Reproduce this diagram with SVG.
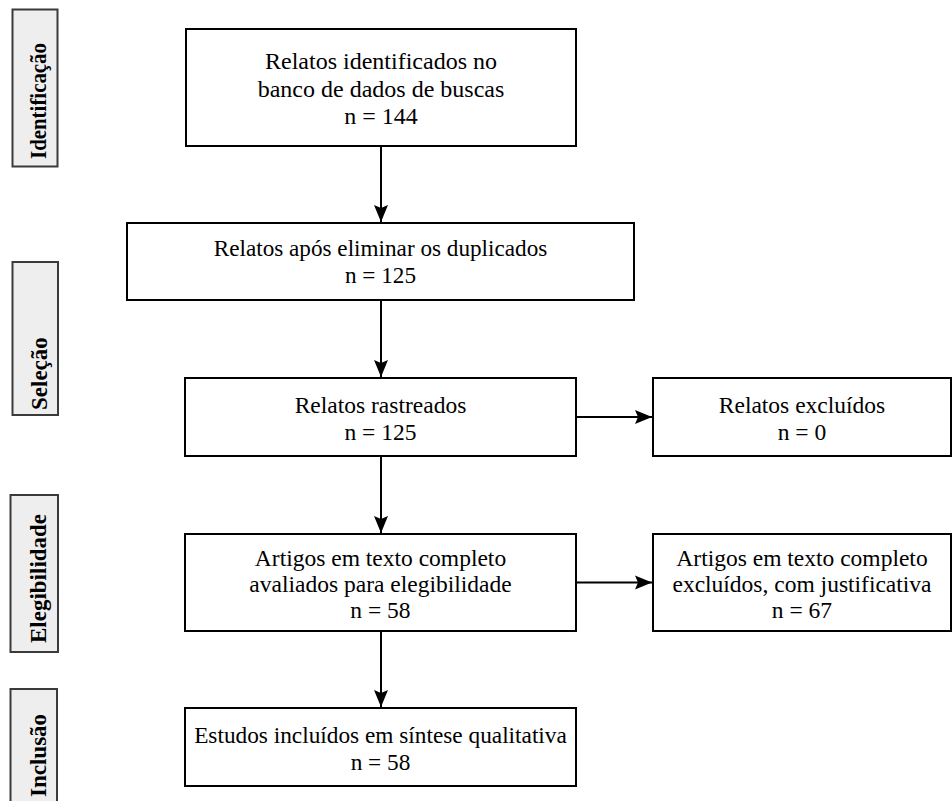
<svg xmlns="http://www.w3.org/2000/svg" width="952" height="801" viewBox="0 0 952 801">
  <style>
    .box { fill: #ffffff; stroke: #000000; stroke-width: 2; }
    .phase { fill: #eeeeee; stroke: #3a3a3a; stroke-width: 2; }
    .conn { fill: none; stroke: #000000; stroke-width: 2; }
  </style>
  <defs>
    <marker id="arrow" markerUnits="userSpaceOnUse" markerWidth="19" markerHeight="16" refX="17" refY="8" orient="auto">
      <path d="M0,1 L17,8 L0,15 L3,8 Z" fill="#000000"/>
    </marker>
  </defs>
  <rect width="952" height="801" fill="#ffffff"/>

  <!-- Phase labels -->
  <g id="phase-identificacao">
    <rect class="phase" x="12.5" y="9.5" width="45" height="157"/>
    <text font-family="Liberation Serif" font-size="23" font-weight="bold" fill="#000" transform="translate(46,159) rotate(-90)" textLength="116" lengthAdjust="spacingAndGlyphs">Identificação</text>
  </g>
  <g id="phase-selecao">
    <rect class="phase" x="12.5" y="262" width="45.5" height="153"/>
    <text font-family="Liberation Serif" font-size="23" font-weight="bold" fill="#000" transform="translate(46.5,410) rotate(-90)">Seleção</text>
  </g>
  <g id="phase-elegibilidade">
    <rect class="phase" x="10.5" y="495" width="47.5" height="157"/>
    <text font-family="Liberation Serif" font-size="23" font-weight="bold" fill="#000" transform="translate(46,643) rotate(-90)">Elegibilidade</text>
  </g>
  <g id="phase-inclusao">
    <rect class="phase" x="10.5" y="689" width="46.5" height="118"/>
    <text font-family="Liberation Serif" font-size="23" font-weight="bold" fill="#000" transform="translate(45.5,797) rotate(-90)">Inclusão</text>
  </g>

  <!-- Connectors -->
  <g id="connectors">
    <path class="conn" d="M381,146 L381,222" marker-end="url(#arrow)"/>
    <path class="conn" d="M381,300 L381,377" marker-end="url(#arrow)"/>
    <path class="conn" d="M381,456 L381,533" marker-end="url(#arrow)"/>
    <path class="conn" d="M381,631 L381,707" marker-end="url(#arrow)"/>
    <path class="conn" d="M576,417 L652,417" marker-end="url(#arrow)"/>
    <path class="conn" d="M576,582.5 L652,582.5" marker-end="url(#arrow)"/>
  </g>

  <!-- Nodes -->
  <g id="n-identificados" font-family="Liberation Serif" font-size="24" fill="#000" text-anchor="middle">
    <rect class="box" x="186" y="29" width="390" height="117"/>
    <text x="381" y="69">Relatos identificados no</text>
    <text x="381" y="96.5">banco de dados de buscas</text>
    <text x="381" y="123.5">n = 144</text>
  </g>
  <g id="n-duplicados" font-family="Liberation Serif" font-size="23.2" fill="#000" text-anchor="middle">
    <rect class="box" x="127" y="223" width="507" height="77"/>
    <text x="380.5" y="256">Relatos após eliminar os duplicados</text>
    <text x="380.5" y="283">n = 125</text>
  </g>
  <g id="n-rastreados" font-family="Liberation Serif" font-size="23.5" fill="#000" text-anchor="middle">
    <rect class="box" x="185" y="378" width="391" height="78"/>
    <text x="380.5" y="412.5">Relatos rastreados</text>
    <text x="380.5" y="439.5">n = 125</text>
  </g>
  <g id="n-excluidos" font-family="Liberation Serif" font-size="23.5" fill="#000" text-anchor="middle">
    <rect class="box" x="653" y="378" width="298" height="78"/>
    <text x="802" y="412.5">Relatos excluídos</text>
    <text x="802" y="439.5">n = 0</text>
  </g>
  <g id="n-elegibilidade" font-family="Liberation Serif" font-size="23.5" fill="#000" text-anchor="middle">
    <rect class="box" x="185" y="534" width="391" height="97"/>
    <text x="380.5" y="566">Artigos em texto completo</text>
    <text x="380.5" y="592">avaliados para elegibilidade</text>
    <text x="380.5" y="617.5">n = 58</text>
  </g>
  <g id="n-excluidos-justificativa" font-family="Liberation Serif" font-size="23.5" fill="#000" text-anchor="middle">
    <rect class="box" x="653" y="534" width="298" height="97"/>
    <text x="802" y="566">Artigos em texto completo</text>
    <text x="802" y="592">excluídos, com justificativa</text>
    <text x="802" y="617.5">n = 67</text>
  </g>
  <g id="n-incluidos" font-family="Liberation Serif" font-size="23.3" fill="#000" text-anchor="middle">
    <rect class="box" x="185" y="708" width="391" height="78"/>
    <text x="380.5" y="743">Estudos incluídos em síntese qualitativa</text>
    <text x="380.5" y="770">n = 58</text>
  </g>
</svg>
